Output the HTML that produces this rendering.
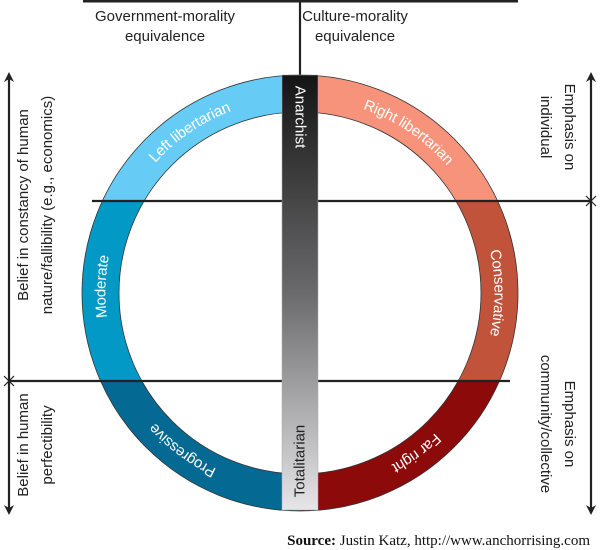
<!DOCTYPE html>
<html><head><meta charset="utf-8"><style>
html,body{margin:0;padding:0;background:#fff;}
svg{display:block;}
text{font-family:"Liberation Sans",sans-serif;}
</style></head><body>
<svg width="600" height="550" viewBox="0 0 600 550" xmlns="http://www.w3.org/2000/svg">
<defs>
<linearGradient id="g" x1="0" y1="0" x2="0" y2="1">
<stop offset="0" stop-color="#141414"/><stop offset="0.5" stop-color="#6a6a6c"/><stop offset="1" stop-color="#e6e6e8"/>
</linearGradient>
<clipPath id="tl"><rect x="0" y="0" width="300" height="201"/></clipPath>
<clipPath id="ml"><rect x="0" y="201" width="300" height="180"/></clipPath>
<clipPath id="bl"><rect x="0" y="381" width="300" height="200"/></clipPath>
<clipPath id="tr"><rect x="300" y="0" width="300" height="201"/></clipPath>
<clipPath id="mr"><rect x="300" y="201" width="300" height="180"/></clipPath>
<clipPath id="br"><rect x="300" y="381" width="300" height="200"/></clipPath>
<path id="c" d="M300,492.5 A199.5,199.5 0 1 1 300,93.5 A199.5,199.5 0 1 1 300,492.5"/>
<marker id="a" markerWidth="10" markerHeight="10" refX="5" refY="5" orient="auto" markerUnits="userSpaceOnUse">
<path d="M0,0 L10,5 L0,10 L3,5 Z" fill="#222"/></marker>
</defs>
<g fill="none" stroke-width="37">
<circle cx="300" cy="293" r="199.5" stroke="#66ccf5" clip-path="url(#tl)"/>
<circle cx="300" cy="293" r="199.5" stroke="#0299c6" clip-path="url(#ml)"/>
<circle cx="300" cy="293" r="199.5" stroke="#046a94" clip-path="url(#bl)"/>
<circle cx="300" cy="293" r="199.5" stroke="#f6937a" clip-path="url(#tr)"/>
<circle cx="300" cy="293" r="199.5" stroke="#c0533a" clip-path="url(#mr)"/>
<circle cx="300" cy="293" r="199.5" stroke="#8c0a0a" clip-path="url(#br)"/>
</g>
<circle cx="300" cy="293" r="218" fill="none" stroke="#333" stroke-width="0.8"/>
<circle cx="300" cy="293" r="181" fill="none" stroke="#333" stroke-width="0.8"/>
<g font-size="15" fill="#fff" dominant-baseline="central" text-anchor="middle">
<text><textPath href="#c" startOffset="128">Progressive</textPath></text>
<text><textPath href="#c" startOffset="320">Moderate</textPath></text>
<text><textPath href="#c" startOffset="507">Left libertarian</textPath></text>
<text><textPath href="#c" startOffset="745">Right libertarian</textPath></text>
<text><textPath href="#c" startOffset="940">Conservative</textPath></text>
<text><textPath href="#c" startOffset="1128">Far right</textPath></text>
</g>
<g stroke="#222" stroke-width="2.2" fill="none">
<line x1="83" y1="1" x2="518" y2="1" stroke-width="3"/>
<line x1="300" y1="1" x2="300" y2="75"/>
<line x1="92" y1="201" x2="590" y2="201"/>
<line x1="8" y1="381" x2="510" y2="381"/>
<line x1="9" y1="381" x2="9" y2="77" marker-end="url(#a)"/>
<line x1="9" y1="381" x2="9" y2="510" marker-end="url(#a)"/>
<line x1="591" y1="201" x2="591" y2="77" marker-end="url(#a)"/>
<line x1="591" y1="201" x2="591" y2="510" marker-end="url(#a)"/>
<path d="M4,376 L14,386 M14,376 L4,386 M586,196 L596,206 M596,196 L586,206" stroke-width="1.2"/>
</g>
<rect x="282" y="75" width="36" height="435" fill="url(#g)" stroke="#aaa" stroke-width="0.5"/>
<text transform="translate(300,117) rotate(90)" font-size="15" fill="#fff" text-anchor="middle" dominant-baseline="central">Anarchist</text>
<text transform="translate(300,461) rotate(-90)" font-size="15" fill="#222" text-anchor="middle" dominant-baseline="central">Totalitarian</text>
<g font-size="15" fill="#222" text-anchor="middle">
<text x="165" y="21">Government-morality</text>
<text x="165" y="41">equivalence</text>
<text x="355" y="21">Culture-morality</text>
<text x="355" y="41">equivalence</text>
</g>
<g font-size="15" fill="#222" text-anchor="middle">
<text transform="translate(28,205) rotate(-90)">Belief in constancy of human</text>
<text transform="translate(52,205) rotate(-90)">nature/fallibility (e.g., economics)</text>
<text transform="translate(28,445) rotate(-90)">Belief in human</text>
<text transform="translate(52,445) rotate(-90)">perfectibility</text>
<text transform="translate(565,127) rotate(90)">Emphasis on</text>
<text transform="translate(541,127) rotate(90)">individual</text>
<text transform="translate(565,424) rotate(90)">Emphasis on</text>
<text transform="translate(541,424) rotate(90)">community/collective</text>
</g>
<text x="590" y="545" font-size="15" fill="#111" text-anchor="end" style="font-family:'Liberation Serif',serif"><tspan font-weight="bold">Source:</tspan> Justin Katz, http://www.anchorrising.com</text>
</svg>
</body></html>
